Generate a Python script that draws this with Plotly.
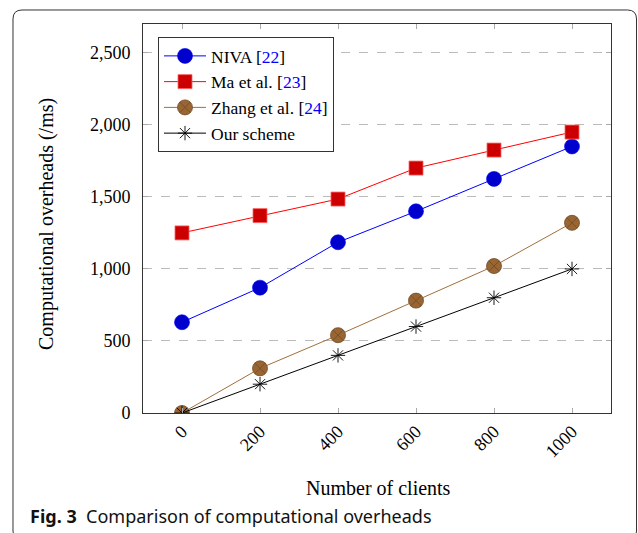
import plotly.graph_objects as go

# ---- data ----
clients = [0, 200, 400, 600, 800, 1000]
niva = [630, 870, 1185, 1400, 1625, 1850]
ma = [1250, 1370, 1485, 1700, 1825, 1950]
zhang = [0, 310, 540, 780, 1020, 1320]
ours = [0, 200, 400, 600, 800, 1000]
y_ticks = [0, 500, 1000, 1500, 2000, 2500]
x_ticks = [0, 200, 400, 600, 800, 1000]

names = [
    "NIVA [<span style='color:#0000ff'>22</span>]",
    "Ma et al. [<span style='color:#0000ff'>23</span>]",
    "Zhang et al. [<span style='color:#0000ff'>24</span>]",
    "Our scheme",
]

W, H = 638, 533
L, R, T, B = 143, 27, 24, 120
PW, PH = W - L - R, H - T - B


def px(x):
    return (x - L) / PW


def py(y):
    return (H - B - y) / PH


SERIF = "Liberation Serif"
fig = go.Figure()

fig.add_trace(go.Scatter(
    x=clients, y=niva, name=names[0], mode="lines+markers",
    line=dict(color="#0000ff", width=1),
    marker=dict(symbol="circle", size=15, color="#0000cc", line=dict(color="#0000ff", width=0.6)),
))
fig.add_trace(go.Scatter(
    x=clients, y=ma, name=names[1], mode="lines+markers",
    line=dict(color="#ff0000", width=1),
    marker=dict(symbol="square", size=14, color="#cc0000", line=dict(color="#ff6060", width=0.8)),
))
fig.add_trace(go.Scatter(
    x=clients, y=zhang, name=names[2], mode="lines+markers",
    line=dict(color="#a0703a", width=1),
    marker=dict(symbol="circle-x", size=15, color="#996633", line=dict(color="#6e4a25", width=0.8)),
))
fig.add_trace(go.Scatter(
    x=clients, y=ours, name=names[3], mode="lines+markers",
    line=dict(color="#000000", width=1),
    marker=dict(symbol="asterisk-open", size=12, color="#000000", line=dict(color="#000000", width=0.9)),
))

# rounded outer frame (bottom edge runs off the page)
x0, x1, y0, y1, r = 13, 636.5, 10, 540, 9
pts = [
    ("M", x0 + r, y0), ("L", x1 - r, y0), ("Q", x1, y0, x1, y0 + r),
    ("L", x1, y1 - r), ("Q", x1, y1, x1 - r, y1),
    ("L", x0 + r, y1), ("Q", x0, y1, x0, y1 - r),
    ("L", x0, y0 + r), ("Q", x0, y0, x0 + r, y0),
]
path = ""
for p in pts:
    cmd = p[0]
    coords = p[1:]
    s = []
    for i in range(0, len(coords), 2):
        s.append(f"{px(coords[i]):.5f},{py(coords[i+1]):.5f}")
    path += cmd + " " + " ".join(s) + " "
path += "Z"
fig.add_shape(type="path", path=path, xref="paper", yref="paper",
              line=dict(color="#333333", width=1), layer="below")

fig.update_layout(
    width=W, height=H,
    margin=dict(l=L, r=R, t=T, b=B),
    paper_bgcolor="white", plot_bgcolor="white",
    font=dict(family=SERIF, size=18, color="black"),
    showlegend=True,
    legend=dict(
        x=px(158), y=py(37), xanchor="left", yanchor="top",
        bgcolor="white", bordercolor="#333333", borderwidth=1,
        font=dict(family=SERIF, size=17.5, color="black"),
        tracegroupgap=0, itemwidth=42,
    ),
    xaxis=dict(
        range=[-100, 1100], tickvals=x_ticks, ticktext=[str(v) for v in x_ticks],
        tickangle=-45, ticks="inside", ticklen=5, tickcolor="#aaaaaa",
        showline=True, linecolor="#333333", linewidth=1, mirror="ticks",
        showgrid=False, zeroline=False,
        tickfont=dict(family=SERIF, size=18),
    ),
    yaxis=dict(
        range=[0, 2700], tickvals=y_ticks, tickformat=",d",
        ticks="inside", ticklen=5, tickcolor="#aaaaaa",
        showline=True, linecolor="#333333", linewidth=1, mirror="ticks",
        showgrid=True, gridcolor="#bbbbbb", griddash="dash", gridwidth=1,
        zeroline=False, ticklabelstandoff=8,
        tickfont=dict(family=SERIF, size=18),
    ),
    annotations=[
        dict(text="Number of clients", x=px(378), y=py(488), xref="paper", yref="paper",
             showarrow=False, xanchor="center", yanchor="middle",
             font=dict(family=SERIF, size=20)),
        dict(text="Computational overheads (/ms)", x=px(46), y=py(224), xref="paper", yref="paper",
             showarrow=False, xanchor="center", yanchor="middle", textangle=-90,
             font=dict(family=SERIF, size=20)),
        dict(text="<b>Fig. 3</b>  Comparison of computational overheads",
             x=px(28), y=py(516), xref="paper", yref="paper",
             showarrow=False, xanchor="left", yanchor="middle",
             font=dict(family="Noto Sans", size=18, color="#111111")),
    ],
)

fig.write_html("out.html")
